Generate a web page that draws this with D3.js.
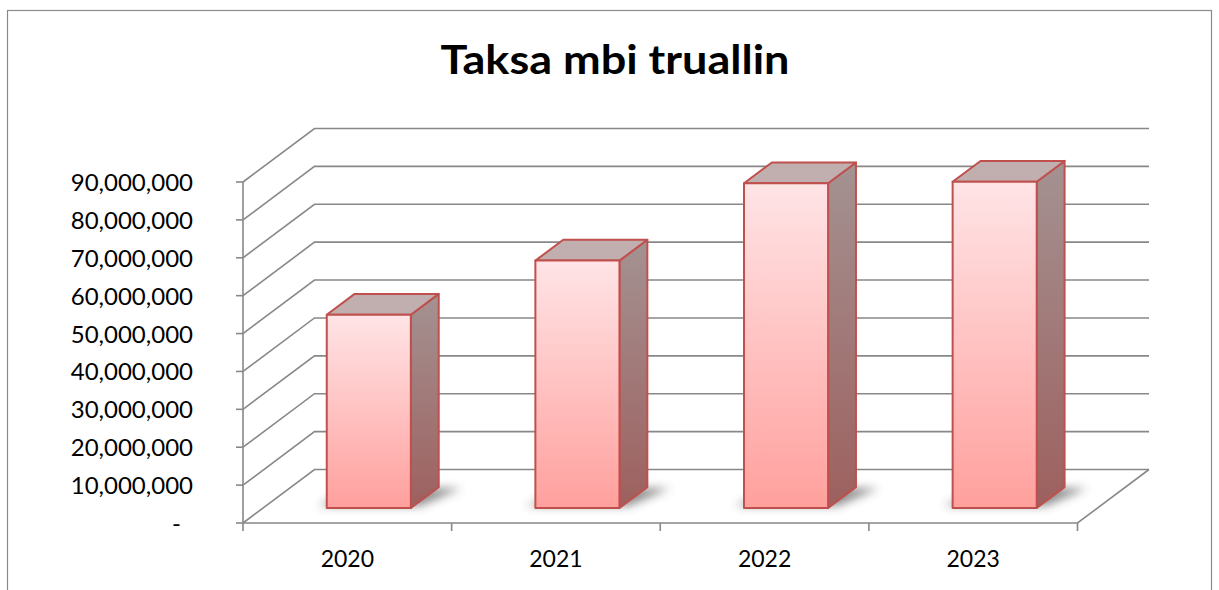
<!DOCTYPE html>
<html>
<head>
<meta charset="utf-8">
<script src="https://cdn.jsdelivr.net/npm/d3@7"></script>
<style>
  body { margin: 0; background: #fff; }
  text { font-family: Lato, "Open Sans", sans-serif; fill: #000; }
</style>
</head>
<body>
<div id="chart"></div>
<script>
// Data
const years = ["2020", "2021", "2022", "2023"];
const values = [51000000, 65300000, 85700000, 86100000];
const yTicks = [0, 10000000, 20000000, 30000000, 40000000, 50000000, 60000000, 70000000, 80000000, 90000000];
const title = "Taksa mbi truallin";

const width = 1219;
const height = 590;

// front plane of the 3d box
const plotLeft = 243, plotRight = 1077.5, plotBottom = 523, plotTop = 182;
// depth vector (oblique projection)
const DX = 71.5, DY = -53.5;
// bar depth range and width inside a category
const d1 = 0.28, d2 = 0.67;
const barOffset = 0.3055, barWidth = 0.403;

const gridColor = "#888888";

const svg = d3.select("#chart")
    .append("svg")
    .attr("width", width)
    .attr("height", height);

const defs = svg.append("defs");

// gradients for the faces
const front = defs.append("linearGradient").attr("id", "front")
    .attr("x1", 0).attr("y1", 0).attr("x2", 0).attr("y2", 1);
front.append("stop").attr("offset", "0%").attr("stop-color", "#ffe4e6");
front.append("stop").attr("offset", "100%").attr("stop-color", "#ffa09d");

const side = defs.append("linearGradient").attr("id", "side")
    .attr("x1", 0).attr("y1", 0).attr("x2", 0).attr("y2", 1);
side.append("stop").attr("offset", "0%").attr("stop-color", "#a49292");
side.append("stop").attr("offset", "100%").attr("stop-color", "#9d605e");

defs.append("filter").attr("id", "blur")
    .attr("x", "-40%").attr("y", "-80%").attr("width", "180%").attr("height", "260%")
    .append("feGaussianBlur").attr("stdDeviation", 5);

// chart border
svg.append("rect")
    .attr("x", 7.5).attr("y", 10.5)
    .attr("width", 1204).attr("height", 620)
    .attr("fill", "none")
    .attr("stroke", "#8a8a8a")
    .attr("stroke-width", 1.2);

// Scales
const x = d3.scaleBand()
    .domain(years)
    .range([plotLeft, plotRight])
    .padding(0);

const y = d3.scaleLinear()
    .domain([0, 90000000])
    .range([plotBottom, plotTop]);

// project a point of the front plane back by depth d (0..1)
function project(px, v, d) {
    return [px + d * DX, y(v) + d * DY];
}

const grid = svg.append("g")
    .attr("stroke", gridColor)
    .attr("stroke-width", 1.6)
    .attr("fill", "none");

// back wall lines + side wall diagonals
grid.selectAll(".back")
    .data(yTicks)
    .join("polyline")
    .attr("points", v => [[plotLeft, y(v)], project(plotLeft, v, 1), project(plotRight, v, 1)]);

// floor: front edge and right edge
grid.append("polyline")
    .attr("points", [[plotLeft, y(0)], [plotRight, y(0)], project(plotRight, 0, 1)]);

// front vertical axis
grid.append("line")
    .attr("x1", plotLeft).attr("x2", plotLeft)
    .attr("y1", y(0)).attr("y2", y(90000000));

// y ticks
grid.selectAll(".ytick")
    .data(yTicks)
    .join("line")
    .attr("x1", plotLeft - 7).attr("x2", plotLeft)
    .attr("y1", d => y(d)).attr("y2", d => y(d));

// x ticks at category boundaries
const xBounds = years.map(d => x(d)).concat([plotRight]);
grid.selectAll(".xtick")
    .data(xBounds)
    .join("line")
    .attr("x1", d => d).attr("x2", d => d)
    .attr("y1", plotBottom).attr("y2", plotBottom + 8);

// y labels
svg.selectAll(".ylabel")
    .data(yTicks)
    .join("text")
    .attr("x", d => d === 0 ? 181 : 193)
    .attr("y", d => y(d) + 9)
    .attr("text-anchor", "end")
    .style("font-size", "24px")
    .text(d => d === 0 ? "-" : d3.format(",")(d));

// x labels
svg.selectAll(".xlabel")
    .data(years)
    .join("text")
    .attr("x", d => x(d) + x.bandwidth() / 2)
    .attr("y", 567)
    .attr("text-anchor", "middle")
    .style("font-size", "23px")
    .text(d => d);

// title
svg.append("text")
    .attr("x", 615)
    .attr("y", 73.5)
    .attr("text-anchor", "middle")
    .attr("textLength", 349)
    .attr("lengthAdjust", "spacingAndGlyphs")
    .style("font-size", "41px")
    .style("font-weight", "bold")
    .text(title);

// Bars
const data = years.map((yr, i) => ({ year: yr, value: values[i] }));

const bars = svg.selectAll(".bar")
    .data(data)
    .join("g")
    .attr("class", "bar");

// shadow on the floor
bars.append("polygon")
    .attr("points", d => {
        const bx = x(d.year) + x.bandwidth() * barOffset;
        const bw = x.bandwidth() * barWidth;
        return [project(bx - 12, 0, d1 + 0.04), project(bx + bw + 6, 0, d1 + 0.04),
                project(bx + bw + 24, 0, d2 - 0.02), project(bx + 6, 0, d2 - 0.02)];
    })
    .attr("fill", "#404040")
    .attr("opacity", 0.6)
    .attr("filter", "url(#blur)");

// right side face
bars.append("polygon")
    .attr("points", d => {
        const bx = x(d.year) + x.bandwidth() * barOffset + x.bandwidth() * barWidth;
        return [project(bx, d.value, d1), project(bx, d.value, d2),
                project(bx, 0, d2), project(bx, 0, d1)];
    })
    .attr("fill", "url(#side)")
    .attr("stroke", "#c0504d")
    .attr("stroke-width", 2)
    .attr("stroke-linejoin", "round");

// top face
bars.append("polygon")
    .attr("points", d => {
        const bx = x(d.year) + x.bandwidth() * barOffset;
        const bw = x.bandwidth() * barWidth;
        return [project(bx, d.value, d1), project(bx + bw, d.value, d1),
                project(bx + bw, d.value, d2), project(bx, d.value, d2)];
    })
    .attr("fill", "#c1aeae")
    .attr("stroke", "#c0504d")
    .attr("stroke-width", 2)
    .attr("stroke-linejoin", "round");

// front face
bars.append("polygon")
    .attr("points", d => {
        const bx = x(d.year) + x.bandwidth() * barOffset;
        const bw = x.bandwidth() * barWidth;
        return [project(bx, d.value, d1), project(bx + bw, d.value, d1),
                project(bx + bw, 0, d1), project(bx, 0, d1)];
    })
    .attr("fill", "url(#front)")
    .attr("stroke", "#c0504d")
    .attr("stroke-width", 2)
    .attr("stroke-linejoin", "round");
</script>
</body>
</html>
